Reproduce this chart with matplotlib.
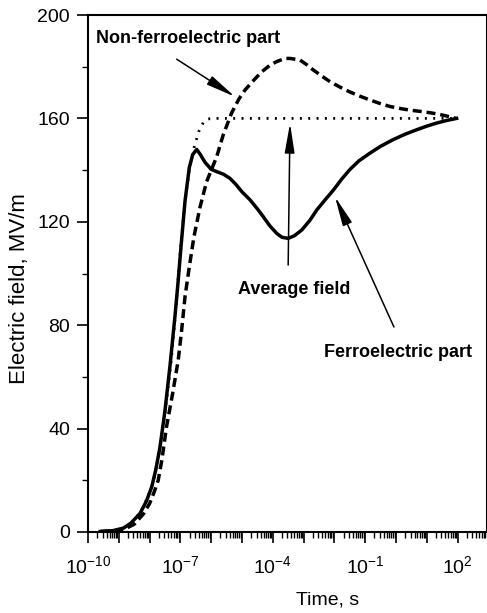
import numpy as np
import matplotlib
matplotlib.use('Agg')
import matplotlib.pyplot as plt
from matplotlib.ticker import FixedLocator, FuncFormatter, LogLocator, MultipleLocator, NullFormatter

plt.rcParams['font.family'] = ['Liberation Sans', 'DejaVu Sans']
plt.rcParams['mathtext.fontset'] = 'custom'
plt.rcParams['mathtext.rm'] = 'Liberation Sans'
plt.rcParams['mathtext.default'] = 'regular'

# log10(time, s) and field (MV/m)
ferro_logt = [-9.6, -9.2, -8.85, -8.6, -8.31, -8.1, -7.93, -7.8, -7.66, -7.5, -7.34,
              -7.18, -7.08, -6.99, -6.85, -6.71, -6.6, -6.47, -6.35, -6.2, -6.0, -5.82,
              -5.6, -5.39, -5.2, -5.0, -4.74, -4.5, -4.31, -4.1, -3.87, -3.7, -3.5, -3.3,
              -3.06, -2.8, -2.57, -2.3, -2.03, -1.75, -1.49, -1.2, -0.84, -0.5, -0.09,
              0.3, 0.67, 1.0, 1.32, 1.65, 1.97]
ferro_field = [0.2, 0.5, 1.5, 3.5, 7.2, 12, 17.5, 24, 33, 47, 64,
               83, 96, 109, 128, 141, 146, 148, 146, 143, 140.3, 139.4,
               138.4, 136.8, 134.5, 131.6, 128.5, 125, 122, 118.5, 115.5, 114, 113.6, 114.6,
               116.8, 120.5, 124.6, 128.5, 132.3, 136.7, 140.3, 143.6, 146.6, 149.2, 151.8,
               153.9, 155.6, 157, 158.2, 159.2, 160]

nonferro_logt = [-9.6, -9.2, -8.8, -8.5, -8.2, -8.0, -7.85, -7.72, -7.6, -7.45, -7.25,
                 -7.07, -6.96, -6.85, -6.71, -6.56, -6.36, -6.15, -5.82, -5.61, -5.34,
                 -5.1, -4.9, -4.6, -4.36, -4.1, -3.87, -3.6, -3.44, -3.12, -2.9, -2.68,
                 -2.4, -2.14, -1.8, -1.49, -1.15, -0.84, -0.5, -0.19, 0.15, 0.45, 0.8,
                 1.10, 1.4, 1.65, 1.95]
nonferro_field = [0.2, 0.4, 1.2, 3, 7, 11, 15.5, 20, 28, 40.7, 53.7,
                  66.5, 78, 91, 102.6, 114.2, 125.8, 135.5, 145.2, 153.6, 162,
                  167.5, 171, 175, 178, 180.5, 182, 183.2, 183.2, 182.6, 180.8, 178.7,
                  176.3, 174.2, 172, 170.2, 168.5, 167.1, 165.7, 164.6, 163.8, 163.2, 162.7,
                  162.2, 161.6, 160.9, 160]

avg_logt = [-9.6, -9.2, -8.85, -8.6, -8.3, -8.1, -7.9, -7.7, -7.5, -7.3, -7.15, -7.0,
            -6.85, -6.7, -6.55, -6.4, -6.25, -6.1, -5.9, 1.97]
avg_field = [0.2, 0.5, 1.5, 3.5, 7.5, 12.5, 18.5, 30, 46, 66, 86, 109,
             128, 141, 149, 155, 158.5, 159.8, 160, 160]

label_exps = [-10, -7, -4, -1, 2]


def tick_label(val, pos):
    e = int(round(np.log10(val)))
    if e in label_exps:
        return '10$^{%d}$' % e
    return ''


def main():
    fig = plt.figure(figsize=(4.87, 6.13), dpi=100)
    ax = fig.add_axes([88 / 487, 81 / 613, 398.5 / 487, 517 / 613])

    ax.plot(10 ** np.array(avg_logt), avg_field, color='black', lw=2,
            linestyle=(0, (0.7, 2.3)), dash_capstyle='butt')
    ax.plot(10 ** np.array(nonferro_logt), nonferro_field, color='black', lw=2.5,
            linestyle=(0, (2.6, 1.4)))
    ax.plot(10 ** np.array(ferro_logt), ferro_field, color='black', lw=2.5)

    ax.set_xscale('log')
    ax.set_xlim(1e-10, 10 ** 2.94)
    ax.set_ylim(0, 200)

    ax.xaxis.set_major_locator(FixedLocator([10.0 ** e for e in range(-10, 3)]))
    ax.xaxis.set_major_formatter(FuncFormatter(tick_label))
    ax.xaxis.set_minor_locator(LogLocator(base=10, subs=np.arange(2, 10), numticks=30))
    ax.xaxis.set_minor_formatter(NullFormatter())
    ax.yaxis.set_major_locator(MultipleLocator(40))
    ax.yaxis.set_minor_locator(MultipleLocator(20))

    ax.tick_params(which='major', direction='out', length=8, width=1.2, labelsize=14)
    ax.tick_params(which='minor', direction='out', length=4.5, width=1)
    ax.tick_params(axis='x', which='major', pad=9)
    ax.tick_params(axis='y', which='major', pad=5)
    for s in ax.spines.values():
        s.set_linewidth(1.5)

    ax.set_xlabel('Time, s', fontsize=14)
    ax.set_ylabel('Electric field, MV/m', fontsize=16)
    ax.xaxis.set_label_coords(0.60, -0.115)
    ax.yaxis.set_label_coords(-0.145, 0.47)

    arrow = dict(arrowstyle='-|>,head_length=0.9,head_width=0.15', color='black',
                 lw=1.1, mutation_scale=20, shrinkA=0, shrinkB=0)
    ax.annotate('', xy=(10 ** -5.23, 168.4), xytext=(10 ** -7.12, 182.9), arrowprops=arrow)
    ax.text(10 ** -6.75, 191, 'Non-ferroelectric part', fontsize=13, fontweight='bold',
            ha='center', va='center')
    ax.annotate('', xy=(10 ** -3.44, 158.1), xytext=(10 ** -3.50, 103.3), arrowprops=arrow)
    ax.text(10 ** -3.30, 94, 'Average field', fontsize=13, fontweight='bold',
            ha='center', va='center')
    ax.annotate('', xy=(10 ** -1.98, 129.7), xytext=(10 ** -0.065, 79.3), arrowprops=arrow)
    ax.text(10 ** 0.06, 69.6, 'Ferroelectric part', fontsize=13, fontweight='bold',
            ha='center', va='center')

    fig.savefig('out.png', dpi=100)


if __name__ == '__main__':
    main()
